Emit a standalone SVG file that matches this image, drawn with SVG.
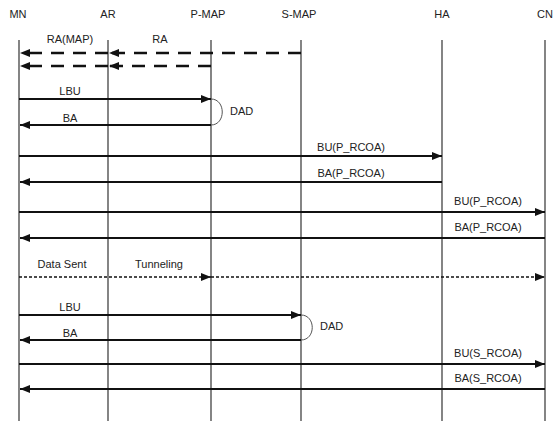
<svg xmlns="http://www.w3.org/2000/svg" width="555" height="422" viewBox="0 0 555 422">
<defs>
<style>
text{font-family:"Liberation Sans",Arial,sans-serif;font-size:11px;fill:#222}
.mid{text-anchor:middle}
.life{stroke:#333;stroke-width:1.2;fill:none}
.msg{stroke:#111;stroke-width:2;fill:none}
.dash{stroke:#111;stroke-width:2.5;fill:none;stroke-dasharray:13 9}
.dot{stroke:#111;stroke-width:1.5;fill:none;stroke-dasharray:3 2}
.arc{stroke:#555;stroke-width:1;fill:none}
</style>
<marker id="ah" markerWidth="10" markerHeight="8" refX="10" refY="4" orient="auto" markerUnits="userSpaceOnUse">
<path d="M0,0 L10,4 L0,8 Z" fill="#111"/>
</marker>
</defs>
<rect width="555" height="422" fill="#fff"/>
<g id="MN"><text class="mid" x="18" y="18">MN</text><line class="life" x1="19" y1="40" x2="19" y2="421"/></g>
<g id="AR"><text class="mid" x="108" y="18">AR</text><line class="life" x1="108" y1="40" x2="108" y2="421"/></g>
<g id="P-MAP"><text class="mid" x="208" y="18">P-MAP</text><line class="life" x1="211" y1="40" x2="211" y2="421"/></g>
<g id="S-MAP"><text class="mid" x="299" y="18">S-MAP</text><line class="life" x1="301" y1="40" x2="301" y2="421"/></g>
<g id="HA"><text class="mid" x="442" y="18">HA</text><line class="life" x1="442" y1="40" x2="442" y2="421"/></g>
<g id="CN"><text class="mid" x="545" y="18">CN</text><line class="life" x1="545" y1="40" x2="545" y2="421"/></g>
<g id="connectors">
<line class="dash" x1="301" y1="53" x2="109" y2="53" marker-end="url(#ah)"/>
<line class="dash" x1="108" y1="53" x2="20" y2="53" marker-end="url(#ah)"/>
<line class="dash" x1="211" y1="66" x2="109" y2="66" marker-end="url(#ah)"/>
<line class="dash" x1="108" y1="66" x2="20" y2="66" marker-end="url(#ah)"/>
<text class="mid" x="70" y="43">RA(MAP)</text>
<text class="mid" x="160" y="43">RA</text>
<line class="msg" x1="19" y1="99" x2="211" y2="99" marker-end="url(#ah)"/>
<line class="msg" x1="211" y1="125" x2="20" y2="125" marker-end="url(#ah)"/>
<path class="arc" d="M211,99 C226,99 226,125 211,125"/>
<text class="mid" x="70" y="95">LBU</text>
<text class="mid" x="70" y="122">BA</text>
<text x="230" y="115">DAD</text>
<line class="msg" x1="19" y1="156" x2="442" y2="156" marker-end="url(#ah)"/>
<line class="msg" x1="442" y1="182" x2="20" y2="182" marker-end="url(#ah)"/>
<text class="mid" x="351" y="151">BU(P_RCOA)</text>
<text class="mid" x="351" y="177">BA(P_RCOA)</text>
<line class="msg" x1="19" y1="212" x2="545" y2="212" marker-end="url(#ah)"/>
<line class="msg" x1="545" y1="238" x2="20" y2="238" marker-end="url(#ah)"/>
<text class="mid" x="488" y="205">BU(P_RCOA)</text>
<text class="mid" x="488" y="231">BA(P_RCOA)</text>
<line class="dot" x1="19" y1="277" x2="211" y2="277" marker-end="url(#ah)"/>
<line class="dot" x1="211" y1="277" x2="545" y2="277" marker-end="url(#ah)"/>
<text class="mid" x="62" y="268">Data Sent</text>
<text class="mid" x="159" y="268">Tunneling</text>
<line class="msg" x1="19" y1="315" x2="301" y2="315" marker-end="url(#ah)"/>
<line class="msg" x1="301" y1="340" x2="20" y2="340" marker-end="url(#ah)"/>
<path class="arc" d="M301,315 C316,315 316,340 301,340"/>
<text class="mid" x="70" y="311">LBU</text>
<text class="mid" x="70" y="337">BA</text>
<text x="320" y="330">DAD</text>
<line class="msg" x1="19" y1="364" x2="545" y2="364" marker-end="url(#ah)"/>
<line class="msg" x1="545" y1="389" x2="20" y2="389" marker-end="url(#ah)"/>
<text class="mid" x="488" y="357">BU(S_RCOA)</text>
<text class="mid" x="488" y="382">BA(S_RCOA)</text>
</g>
</svg>
